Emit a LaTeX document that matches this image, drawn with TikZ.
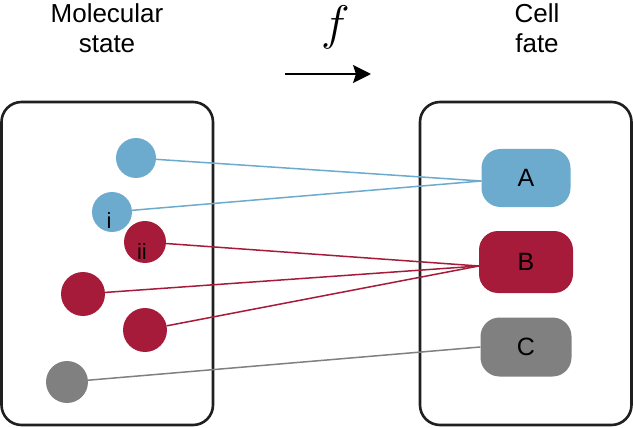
\documentclass[tikz,border=0pt]{standalone}
\usepackage{fontspec}
\setmainfont{Liberation Sans}
\usetikzlibrary{arrows.meta,backgrounds}
\definecolor{cblue}{RGB}{108,171,206}
\definecolor{cred}{RGB}{166,27,58}
\definecolor{cgray}{RGB}{128,128,128}
\tikzset{
  container/.style={draw=black!88,line width=2.6pt,rounded corners=20pt},
  mol/.style={circle,inner sep=0pt,minimum size=#1},
  fatebox/.style={rounded corners=19pt,inner sep=0pt,font=\fontsize{25}{25}\selectfont},
  title/.style={anchor=base,font=\fontsize{26}{30}\selectfont},
  conn/.style={line width=1.5pt},
  lbl/.style={anchor=base,font=\fontsize{22}{22}\selectfont}
}
\begin{document}
\begin{tikzpicture}[x=1pt,y=-1pt]
\useasboundingbox (0,0) rectangle (633,428);
% titles
\node[title] (t1) at (107,23) {Molecular};
\node[title] (t2) at (107,53) {state};
\node[title] (t3) at (537,23) {Cell};
\node[title] (t4) at (537,53) {fate};
\node[scale=1.95,inner sep=0pt,font=\fontsize{24}{24}\selectfont] (fn) at (336,27) {$f$};
\coordinate (a1) at (285,74);
\coordinate (a2) at (371,74);
\draw[line width=1.8pt,-{Stealth[length=18pt,width=18pt,inset=3pt]}] (a1) -- (a2);
% molecular states
\node[mol=40pt,fill=cblue] (b1) at (136,158) {};
\node[mol=40pt,fill=cblue] (bi) at (112,212) {};
\node[mol=42pt,fill=cred] (rii) at (145,242) {};
\node[mol=44pt,fill=cred] (r2) at (83,294) {};
\node[mol=44pt,fill=cred] (r3) at (145,330) {};
\node[mol=42pt,fill=cgray] (g1) at (67,382) {};
\node[lbl] (li) at (109,228) {i};
\node[lbl] (lii) at (142,259) {ii};
% fates
\node[fatebox,fill=cblue,minimum width=89pt,minimum height=58pt] (A) at (526,178) {A};
\node[fatebox,fill=cred,minimum width=94pt,minimum height=62pt] (B) at (526,262) {B};
\node[fatebox,fill=cgray,minimum width=91pt,minimum height=59pt] (C) at (526,347) {C};
\coordinate (pA) at ([yshift=-3pt]A.west);
\coordinate (pB) at ([yshift=-4pt]B.west);
\coordinate (pC) at (C.west);
\begin{scope}[on background layer]
\draw[container] (1.5,102) rectangle (213,425);
\draw[container] (420,102) rectangle (631.5,425);
\draw[conn,cblue] (b1) -- (pA);
\draw[conn,cblue] (bi) -- (pA);
\draw[conn,cred] (rii) -- (pB);
\draw[conn,cred] (r2) -- (pB);
\draw[conn,cred] (r3) -- (pB);
\draw[conn,cgray] (g1) -- (pC);
\end{scope}
\end{tikzpicture}
\end{document}
